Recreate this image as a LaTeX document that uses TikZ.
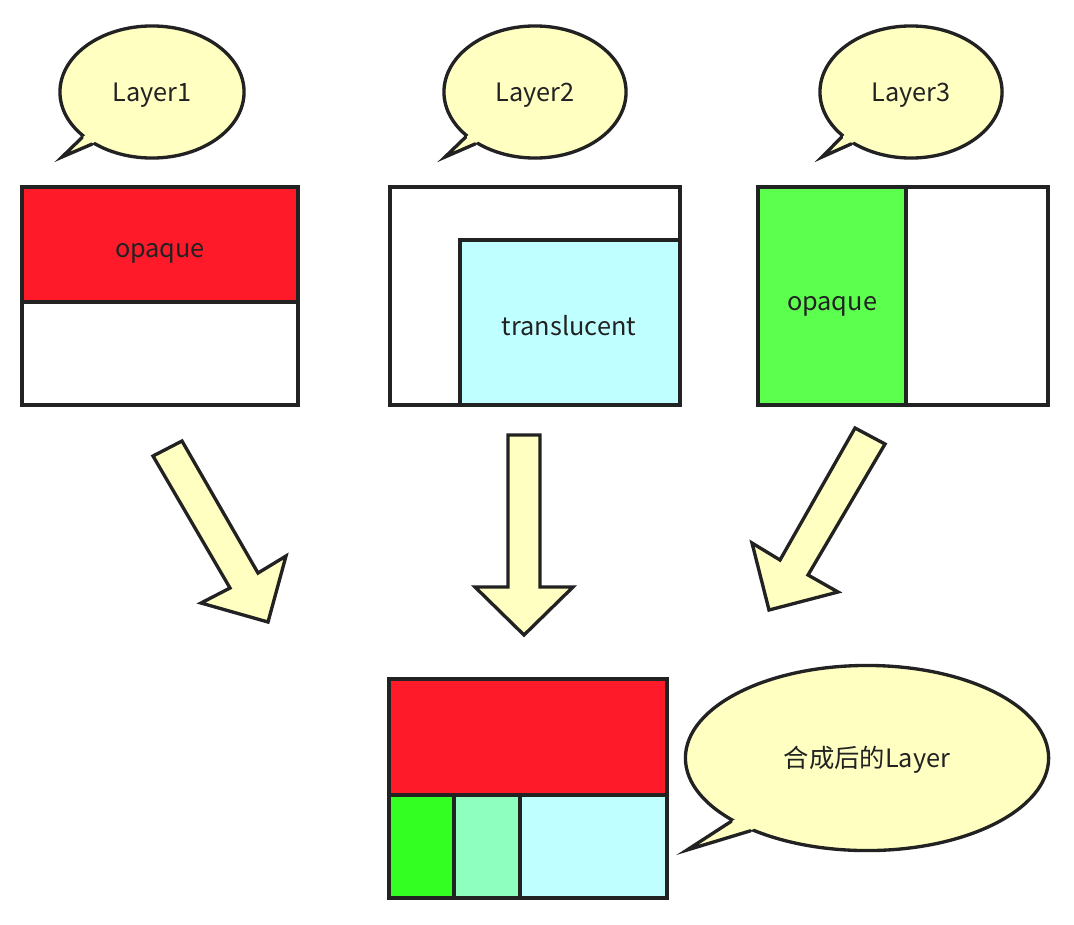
\documentclass[tikz,border=0pt]{standalone}
\usepackage{fontspec}
\setmainfont{Noto Sans CJK SC}
\usetikzlibrary{calc,shapes.geometric}
\definecolor{edgegray}{HTML}{222222}
\definecolor{bubblefill}{HTML}{FFFFC2}
\definecolor{opqred}{HTML}{FF1A2A}
\definecolor{opqgreen}{HTML}{5CFF4E}
\definecolor{mixgreen}{HTML}{33FF22}
\definecolor{mixmint}{HTML}{8FFFBF}
\definecolor{tlcyan}{HTML}{C0FFFF}
\tikzset{
  every picture/.style={font=\fontsize{7.2pt}{9pt}\selectfont, line join=round, line cap=round},
  edge/.style={draw=edgegray, line width=0.95pt, line join=miter},
  bubble/.style={ellipse, draw=edgegray, fill=bubblefill, line width=0.95pt, text=edgegray,
    inner sep=0pt, text height=5.2pt, text depth=0pt},
  blockarrow/.style={draw=edgegray, fill=bubblefill, line width=0.95pt, line join=miter},
  label/.style={text=edgegray, inner sep=0pt, text height=5.2pt, text depth=0pt},
}
% tail of a speech bubble: node, two border angles, tip
\newcommand{\bubbletail}[4]{%
  \fill[bubblefill] (#1.#2) -- (#4) -- (#1.#3)
    -- ($(#1.#3)!0.12!(#1.center)$) -- ($(#1.#2)!0.12!(#1.center)$) -- cycle;
  \draw[edgegray, line width=0.95pt, line join=miter] (#1.#2) -- (#4) -- (#1.#3);
}
\begin{document}
\begin{tikzpicture}[x=0.01cm, y=-0.01cm]
\useasboundingbox (0,0) rectangle (1074,924);

% speech bubbles
\node[bubble, minimum width=1.84cm, minimum height=1.32cm] (bub1) at (152,92) {Layer1};
\node[bubble, minimum width=1.82cm, minimum height=1.32cm] (bub2) at (535,92) {Layer2};
\node[bubble, minimum width=1.82cm, minimum height=1.32cm] (bub3) at (911,92) {Layer3};
\node[bubble, minimum width=3.63cm, minimum height=1.85cm] (bub4) at (867,758) {合成后的Layer};
\coordinate (tip1) at (62,157);
\coordinate (tip2) at (445,157);
\coordinate (tip3) at (822,157);
\coordinate (tip4) at (687,850);
\bubbletail{bub1}{213}{221}{tip1}
\bubbletail{bub2}{213}{221}{tip2}
\bubbletail{bub3}{213}{221}{tip3}
\bubbletail{bub4}{205}{212}{tip4}

% layer 1
\fill[opqred] (22,187) rectangle (298,302);
\draw[edge] (22,302) -- (298,302);
\draw[edge] (22,187) rectangle (298,405);
\node[label] (opq1) at (160,248) {opaque};

% layer 2
\draw[edge] (390,187) rectangle (680,405);
\draw[edge, fill=tlcyan] (460,240) rectangle (680,405);
\node[label] (tl2) at (569,326) {translucent};

% layer 3
\draw[edge] (758,187) rectangle (1048,405);
\draw[edge, fill=opqgreen] (758,187) rectangle (906,405);
\node[label] (opq3) at (832,301) {opaque};

% block arrows
\draw[blockarrow] (153,456) -- (182,441) -- (258,573) -- (286,556) -- (268,622)
  -- (201,603) -- (230,588) -- cycle;
\draw[blockarrow] (508,435) -- (540,435) -- (540,587) -- (573,587) -- (524,635)
  -- (475,587) -- (508,587) -- cycle;
\draw[blockarrow] (855,428) -- (885,444) -- (808,575) -- (838,592) -- (769,610)
  -- (752,543) -- (780,560) -- cycle;

% composed layer
\fill[opqred] (389,679) rectangle (667,795);
\fill[mixgreen] (389,795) rectangle (454,898);
\fill[mixmint] (454,795) rectangle (520,898);
\fill[tlcyan] (520,795) rectangle (667,898);
\draw[edge] (389,795) -- (667,795);
\draw[edge] (454,795) -- (454,898);
\draw[edge] (520,795) -- (520,898);
\draw[edge] (389,679) rectangle (667,898);
\end{tikzpicture}
\end{document}
